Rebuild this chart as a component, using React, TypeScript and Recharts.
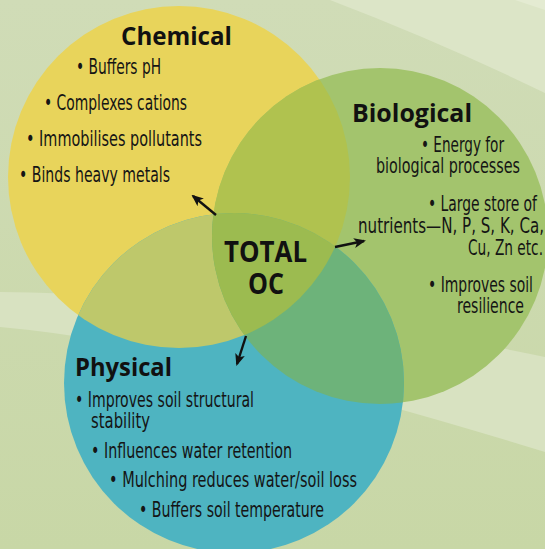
import { ScatterChart, Scatter, XAxis, YAxis } from 'recharts'

const W = 545
const H = 549

// circles of the diagram (data units = pixels of the original)
const groups = ['Chemical', 'Biological', 'Physical']
const centerX = [179, 380, 234]
const centerY = [177, 236, 383]
const radius = [171, 168, 170]

const chemicalLines = ['• Buffers pH', '• Complexes cations', '• Immobilises pollutants', '• Binds heavy metals']
const biologicalLines = [
  '• Energy for',
  'biological processes',
  '• Large store of',
  'nutrients—N, P, S, K, Ca,',
  'Cu, Zn etc.',
  '• Improves soil',
  'resilience',
]
const physicalLines = [
  '• Improves soil structural',
  'stability',
  '• Influences water retention',
  '• Mulching reduces water/soil loss',
  '• Buffers soil temperature',
]
const centreLines = ['TOTAL', 'OC']

const overlapPairs = [
  [0, 1],
  [0, 2],
  [1, 2],
]

// styles / layout
const FILL: Record<string, string> = {
  Chemical: '#e8d45b',
  Biological: '#a3c46d',
  Physical: '#4eb4c1',
  'Chemical-Biological': '#b0c24f',
  'Chemical-Physical': '#bec86b',
  'Biological-Physical': '#6db37a',
  'Chemical-Biological-Physical': '#9cbb50',
}

const BODY_FONT = "'Liberation Sans Narrow', 'DejaVu Sans Condensed', 'Roboto', sans-serif"
const TITLE_FONT = "'Open Sans', 'Noto Sans', sans-serif"

// [left, right, baseline] for title and each line
const LAYOUT: Record<string, { title: number[]; lines: number[][] }> = {
  Chemical: {
    title: [121, 232, 45],
    lines: [
      [76, 161, 74],
      [44, 187, 110],
      [26, 202, 146],
      [19, 170, 182],
    ],
  },
  Biological: {
    title: [352, 472, 122],
    lines: [
      [421, 504, 152],
      [376, 520, 173],
      [428, 537, 211],
      [358, 544, 233],
      [468, 543, 255],
      [428, 533, 292],
      [457, 524, 313],
    ],
  },
  Physical: {
    title: [75, 172, 376],
    lines: [
      [75, 254, 407],
      [91, 150, 428],
      [91, 292, 458],
      [109, 357, 487],
      [139, 324, 517],
    ],
  },
}
const CENTRE_LAYOUT = [
  [224, 307, 262],
  [248, 284, 294],
]
const ARROWS = [
  [216, 215, 193, 196],
  [335, 247, 364, 241],
  [246, 336, 237, 364],
]

const LINES: Record<string, string[]> = {
  Chemical: chemicalLines,
  Biological: biologicalLines,
  Physical: physicalLines,
}

const SX = 1
const SY = 1

const circleData = groups.map((name, i) => ({ name, x: centerX[i], y: centerY[i], r: radius[i] }))
const overlapData = [
  ...overlapPairs.map(([a, b]) => ({
    name: `${groups[a]}-${groups[b]}`,
    x: centerX[a],
    y: centerY[a],
    r: radius[a],
    clips: [groups[b]],
  })),
  {
    name: groups.join('-'),
    x: centerX[0],
    y: centerY[0],
    r: radius[0],
    clips: [groups[1], groups[2]],
  },
]
const labelData = groups.map((name, i) => ({ name, x: centerX[i], y: centerY[i] }))
const centreData = [
  {
    name: 'centre',
    x: centerX.reduce((s, v) => s + v, 0) / centerX.length,
    y: centerY.reduce((s, v) => s + v, 0) / centerY.length,
  },
]

const CircleShape = (props: any) => {
  const { cx, cy, payload } = props
  const r = payload.r * SX
  return (
    <g>
      <defs>
        <clipPath id={`clip-${payload.name}`}>
          <circle cx={cx} cy={cy} r={r} />
        </clipPath>
      </defs>
      <circle cx={cx} cy={cy} r={r} fill={FILL[payload.name]} />
    </g>
  )
}

const OverlapShape = (props: any) => {
  const { cx, cy, payload } = props
  let node = <circle cx={cx} cy={cy} r={payload.r * SX} fill={FILL[payload.name]} />
  payload.clips.forEach((c: string) => {
    node = <g clipPath={`url(#clip-${c})`}>{node}</g>
  })
  return node
}

const LabelShape = (props: any) => {
  const { cx, cy, payload } = props
  const px = (v: number) => cx + (v - payload.x) * SX
  const py = (v: number) => cy + (v - payload.y) * SY
  const lay = LAYOUT[payload.name]
  const [tl, tr, tb] = lay.title
  return (
    <g>
      <text
        x={px(tl)}
        y={py(tb)}
        textLength={(tr - tl) * SX}
        lengthAdjust="spacingAndGlyphs"
        fontFamily={TITLE_FONT}
        fontWeight={700}
        fontSize={25}
        fill="#111"
      >
        {payload.name}
      </text>
      {LINES[payload.name].map((line, i) => {
        const [l, r, b] = lay.lines[i]
        return (
          <text
            key={i}
            x={px(l)}
            y={py(b)}
            textLength={(r - l) * SX}
            lengthAdjust="spacingAndGlyphs"
            fontFamily={BODY_FONT}
            fontSize={21}
            fill="#151515"
          >
            {line}
          </text>
        )
      })}
    </g>
  )
}

const CentreShape = (props: any) => {
  const { cx, cy, payload } = props
  const px = (v: number) => cx + (v - payload.x) * SX
  const py = (v: number) => cy + (v - payload.y) * SY
  return (
    <g>
      <defs>
        <marker
          id="arrowhead"
          markerUnits="userSpaceOnUse"
          markerWidth={12}
          markerHeight={10}
          refX={10}
          refY={5}
          orient="auto"
        >
          <path d="M0,0 L12,5 L0,10 L3,5 z" fill="#111" />
        </marker>
      </defs>
      {ARROWS.map(([x1, y1, x2, y2], i) => (
        <line
          key={i}
          x1={px(x1)}
          y1={py(y1)}
          x2={px(x2)}
          y2={py(y2)}
          stroke="#111"
          strokeWidth={2.4}
          markerEnd="url(#arrowhead)"
        />
      ))}
      {centreLines.map((t, i) => {
        const [l, r, b] = CENTRE_LAYOUT[i]
        return (
          <text
            key={t}
            x={px(l)}
            y={py(b)}
            textLength={(r - l) * SX}
            lengthAdjust="spacingAndGlyphs"
            fontFamily={TITLE_FONT}
            fontWeight={700}
            fontSize={28}
            fill="#111"
          >
            {t}
          </text>
        )
      })}
    </g>
  )
}

function Backdrop() {
  return (
    <svg width={W} height={H} style={{ position: 'absolute', left: 0, top: 0 }}>
      <defs>
        <linearGradient id="bg" x1="0" y1="0" x2="0" y2="1">
          <stop offset="0" stopColor="#d0dcb7" />
          <stop offset="1" stopColor="#c8d7a6" />
        </linearGradient>
      </defs>
      <rect width={W} height={H} fill="url(#bg)" />
      <path d="M330 0 L545 0 L545 93 Q440 42 330 0 Z" fill="#dce5c7" />
      <path d="M515 0 L545 0 L545 10 Z" fill="#e4ebd2" />
      <path d="M0 292 Q250 295 545 357 L545 452 Q200 345 0 327 Z" fill="#d8e2c1" />
    </svg>
  )
}

export default function App() {
  return (
    <div style={{ position: 'absolute', left: 0, top: 0, width: W, height: H, overflow: 'hidden' }}>
      <Backdrop />
      <div style={{ position: 'absolute', left: 0, top: 0 }}>
        <ScatterChart width={W} height={H} margin={{ top: 0, right: 0, bottom: 0, left: 0 }}>
          <XAxis type="number" dataKey="x" domain={[0, W]} hide />
          <YAxis type="number" dataKey="y" domain={[0, H]} reversed hide />
          <Scatter data={circleData} shape={CircleShape} isAnimationActive={false} />
          <Scatter data={overlapData} shape={OverlapShape} isAnimationActive={false} />
          <Scatter data={labelData} shape={LabelShape} isAnimationActive={false} />
          <Scatter data={centreData} shape={CentreShape} isAnimationActive={false} />
        </ScatterChart>
      </div>
    </div>
  )
}
